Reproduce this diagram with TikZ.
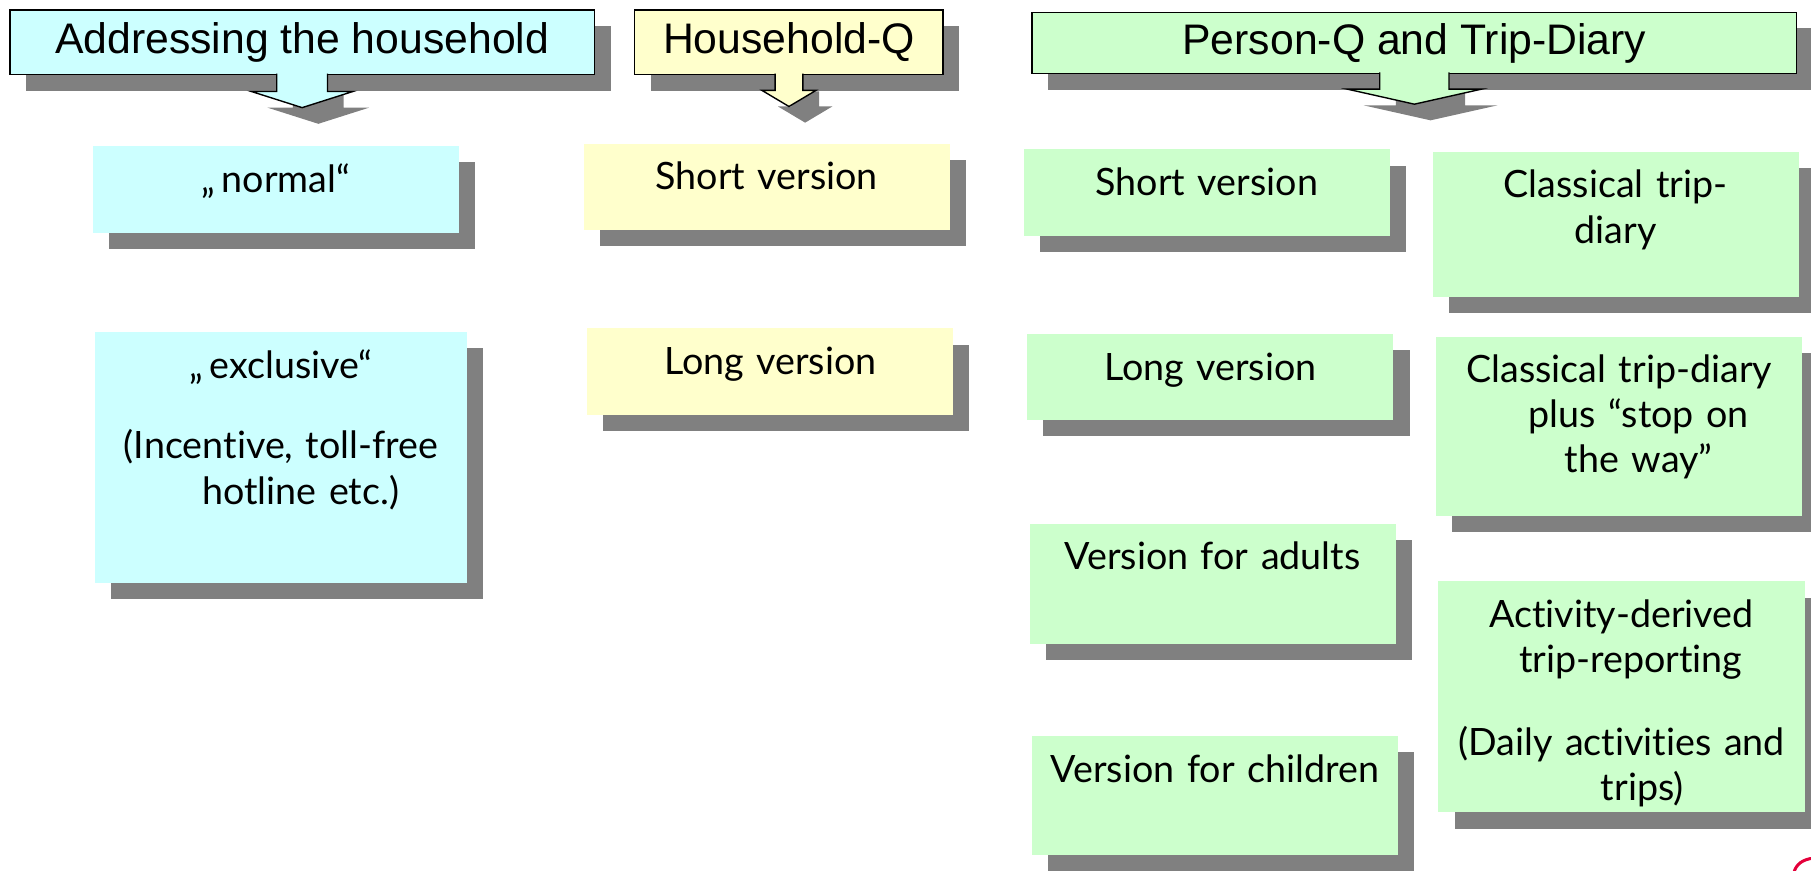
\documentclass[tikz,border=0pt]{standalone}
\usepackage{fontspec}
\setmainfont{Lato}[Ligatures=NoCommon]
\newfontfamily\headfont{Liberation Sans}
\usetikzlibrary{shadows}
\definecolor{hhcyan}{HTML}{CCFFFF}
\definecolor{hhyellow}{HTML}{FFFFCC}
\definecolor{hhgreen}{HTML}{CCFFCC}
\definecolor{shadowgray}{HTML}{808080}
\definecolor{logored}{HTML}{E4003A}

\begin{document}
\begin{tikzpicture}[x=0.5pt, y=-0.5pt,
    shade box/.style={drop shadow={shadow xshift=7pt, shadow yshift=-7pt, fill=shadowgray, opacity=1}},
    header/.style={shade box, draw=black, line width=0.6pt, anchor=north west, inner sep=0pt,
        font=\headfont\fontsize{18.5}{22}\selectfont, text height=13.5pt, text depth=3.5pt},
    callout/.style={draw=black, line width=0.6pt, line join=miter},
    panel/.style={shade box, anchor=north west, inner sep=0pt, text width=158.5pt, align=center,
        text height=20pt, font=\fontsize{16.3}{19.5}\selectfont}]
    \useasboundingbox (0,0) rectangle (1568,754);

    % headers
    \node[header, fill=hhcyan, minimum width=253pt, minimum height=28pt] (addr) at (8,8) {Addressing the household};
    \node[header, fill=hhyellow, minimum width=133.5pt, minimum height=28pt] (hhq) at (549,8) {Household-Q};
    \node[header, fill=hhgreen, minimum width=331pt, minimum height=26.5pt] (personq) at (893,10) {Person-Q and Trip-Diary};

    % callout arrows under the headers
    \fill[shadowgray] ([shift={(-8,14)}]addr.south) -- ++(0,14) -- ++(-22,0) -- ++(44,14) -- ++(44,-14) -- ++(-22,0) -- ++(0,-14);
    \path[callout, fill=hhcyan] ([shift={(-22,-1.5)}]addr.south) -- ++(0,15.5) -- ++(-22,0) -- ++(44,14) -- ++(44,-14) -- ++(-22,0) -- ++(0,-15.5);

    \fill[shadowgray] ([shift={(2,14)}]hhq.south) -- ++(0,13) -- ++(-11.5,0) -- ++(23.5,14) -- ++(23.5,-14) -- ++(-11.5,0) -- ++(0,-13);
    \path[callout, fill=hhyellow] ([shift={(-12,-1.5)}]hhq.south) -- ++(0,14.5) -- ++(-11.5,0) -- ++(23.5,14) -- ++(23.5,-14) -- ++(-11.5,0) -- ++(0,-14.5);

    \fill[shadowgray] ([shift={(-16,14)}]personq.south) -- ++(0,13) -- ++(-28,0) -- ++(58,13) -- ++(58,-13) -- ++(-28,0) -- ++(0,-13);
    \path[callout, fill=hhgreen] ([shift={(-30,-1.5)}]personq.south) -- ++(0,14.5) -- ++(-28,0) -- ++(58,13) -- ++(58,-13) -- ++(-28,0) -- ++(0,-14.5);

    % addressing the household
    \node[panel, fill=hhcyan, text depth=17.5pt] (normal) at (80,126) {„\,normal“};
    \node[panel, fill=hhcyan, text width=161pt, text depth=88.5pt] (exclusive) at (82,287)
        {„\,exclusive“\\[15.5pt] (Incentive, toll-free\\ \hspace*{17pt}hotline etc.)};

    % household questionnaire
    \node[panel, fill=hhyellow, text depth=17.5pt] (hhshort) at (505,124) {Short version};
    \node[panel, fill=hhyellow, text depth=17.5pt] (hhlong) at (508,284) {Long version};

    % person questionnaire
    \node[panel, fill=hhgreen, text depth=17.5pt] (pshort) at (886,129) {Short version};
    \node[panel, fill=hhgreen, text depth=17pt] (plong) at (889,289) {Long version};
    \node[panel, fill=hhgreen, text depth=32pt] (adults) at (891,453) {Version for adults};
    \node[panel, fill=hhgreen, text depth=31.5pt] (children) at (893,637) {Version for children};

    % trip diary
    \node[panel, fill=hhgreen, text depth=43pt] (classic) at (1240,131) {Classical trip-\\diary};
    \node[panel, fill=hhgreen, text depth=57.5pt] (stopway) at (1243,291)
        {Classical trip-diary\\ \hspace*{17pt}plus “stop on\\ \hspace*{17pt}the way”};
    \node[panel, fill=hhgreen, text depth=80pt] (activity) at (1245,503)
        {Activity-derived\\ \hspace*{8pt}trip-reporting\\[16.5pt] (Daily activities and\\ \hspace*{18pt}trips)};

    % logo fragment
    \draw[logored, line width=1.3pt] (1553,756) .. controls (1555,748) and (1561,744) .. (1570,743);
\end{tikzpicture}
\end{document}
